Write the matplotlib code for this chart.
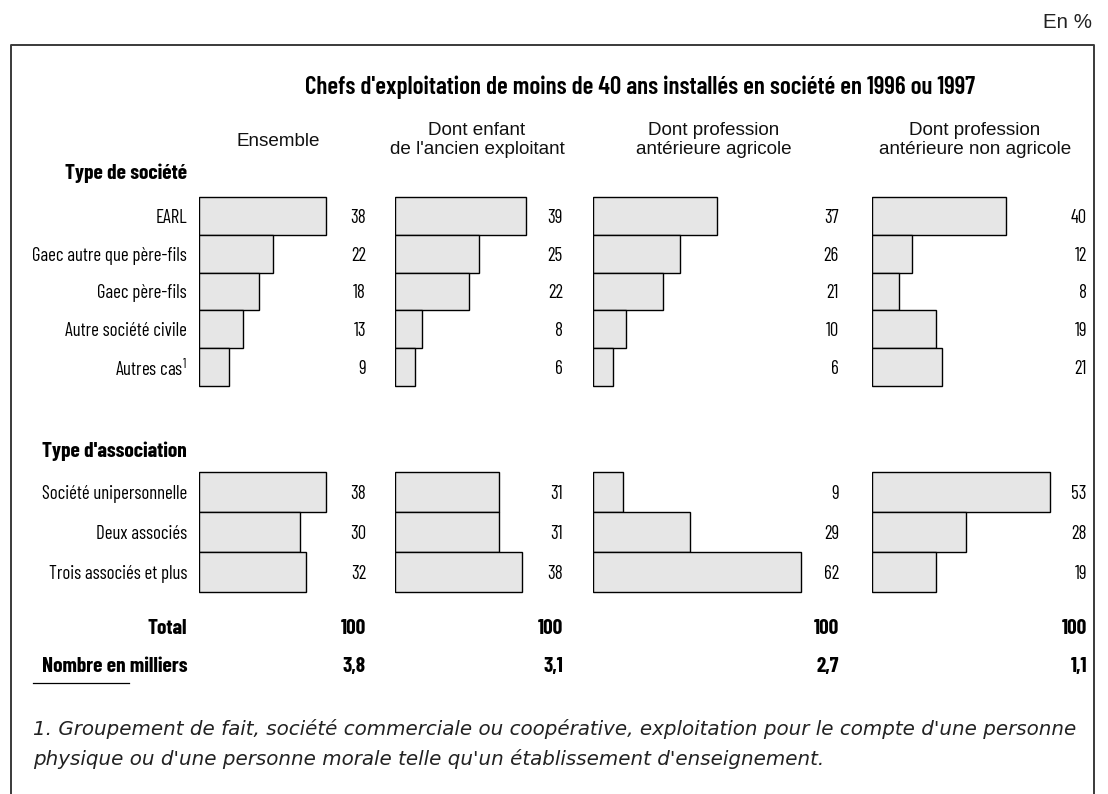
import matplotlib
matplotlib.use("Agg")
import matplotlib.pyplot as plt
from matplotlib import font_manager as fm

# ---------------- data ----------------
columns = ["Ensemble",
           "Dont enfant\nde l'ancien exploitant",
           "Dont profession\nantérieure agricole",
           "Dont profession\nantérieure non agricole"]
societe_labels = ["EARL", "Gaec autre que père-fils", "Gaec père-fils",
                  "Autre société civile", r"Autres cas$^{\mathrm{1}}$"]
societe_values = [
    [38, 22, 18, 13, 9],
    [39, 25, 22, 8, 6],
    [37, 26, 21, 10, 6],
    [40, 12, 8, 19, 21],
]
association_labels = ["Société unipersonnelle", "Deux associés", "Trois associés et plus"]
association_values = [
    [38, 30, 32],
    [31, 31, 38],
    [9, 29, 62],
    [53, 28, 19],
]
totals = ["100", "100", "100", "100"]
nombre = ["3,8", "3,1", "2,7", "1,1"]

subtitle = "Chefs d'exploitation de moins de 40 ans installés en société en 1996 ou 1997"
footnote = ("1. Groupement de fait, société commerciale ou coopérative, exploitation pour le compte d'une personne\n"
            "physique ou d'une personne morale telle qu'un établissement d'enseignement.")

# ---------------- fonts ----------------
names = {f.name for f in fm.fontManager.ttflist}
def pick(cands):
    for c in cands:
        if c in names:
            return [c, "DejaVu Sans"]
    return ["DejaVu Sans"]
narrow = pick(["Barlow Condensed", "Fira Sans Extra Condensed", "Archivo Narrow"])
narrow_bold = pick(["Barlow Condensed", "Fira Sans Extra Condensed", "Encode Sans Condensed"])
regular = pick(["Liberation Sans", "Arimo"])
foot_font = ["DejaVu Sans"]

plt.rcParams["mathtext.fontset"] = "custom"
plt.rcParams["mathtext.rm"] = narrow[0]
plt.rcParams["mathtext.it"] = narrow[0] + ":italic"
plt.rcParams["mathtext.bf"] = narrow[0] + ":bold"

W, H = 1108, 794
fig = plt.figure(figsize=(W / 100, H / 100), dpi=100)
bg = fig.add_axes([0, 0, 1, 1])
bg.set_xlim(0, W)
bg.set_ylim(H, 0)
bg.axis("off")
renderer = fig.canvas.get_renderer()

def fit(t, target_w):
    bb = t.get_window_extent(renderer)
    if bb.width > 0:
        t.set_fontsize(t.get_fontsize() * target_w / bb.width)
    return t.get_fontsize()

# frame (no bottom border)
bg.plot([11, 11, 1094, 1094], [H + 5, 45, 45, H + 5], color="#3a3a3a", lw=1.4)
t = bg.text(1092, 22, "En %", ha="right", va="center", fontsize=12, family=regular, color="#222222")
fit(t, 49)

t = bg.text(640, 87, subtitle, ha="center", va="center", fontsize=12, family=narrow_bold,
            fontweight="semibold")
fit(t, 670)

bar_left = [199, 395, 593, 872]
val_right = [366, 563, 839, 1087]
head_x = [278, 477, 714, 975]
px_per_pct = 3.35
label_right = 187

# header font size from the widest header line
t = bg.text(975, 151, "antérieure non agricole", ha="center", va="center", fontsize=12, family=regular)
hsize = fit(t, 194)
t.remove()
for i, c in enumerate(columns):
    yc = 140 if "\n" in c else 141
    bg.text(head_x[i], yc, c, ha="center", va="center", fontsize=hsize,
            family=regular, color="#111111", linespacing=1.2)

# sizes of the condensed texts
t = bg.text(label_right, 0, "Gaec autre que père-fils", ha="right", va="center", fontsize=12, family=narrow)
lsize = fit(t, 154)
t.remove()
t = bg.text(label_right, 0, "Nombre en milliers", ha="right", va="center", fontsize=12,
            family=narrow_bold, fontweight="bold")
bsize = fit(t, 146)
t.remove()

bg.text(label_right, 173, "Type de société", ha="right", va="center", fontsize=bsize,
        family=narrow_bold, fontweight="bold")
bg.text(label_right, 451, "Type d'association", ha="right", va="center", fontsize=bsize,
        family=narrow_bold, fontweight="bold")

step1, top1 = 37.8, 197
step2, top2 = 40.0, 472
y1 = [top1 + step1 * (k + 0.5) for k in range(len(societe_labels))]
y2 = [top2 + step2 * (k + 0.5) for k in range(len(association_labels))]

for lab, y in zip(societe_labels, y1):
    bg.text(label_right, y, lab, ha="right", va="center_baseline", fontsize=lsize, family=narrow)
for lab, y in zip(association_labels, y2):
    bg.text(label_right, y, lab, ha="right", va="center_baseline", fontsize=lsize, family=narrow)

bg.text(label_right, 627, "Total", ha="right", va="center_baseline", fontsize=bsize,
        family=narrow_bold, fontweight="bold")
bg.text(label_right, 665, "Nombre en milliers", ha="right", va="center_baseline", fontsize=bsize,
        family=narrow_bold, fontweight="bold")

for i in range(4):
    width_px = 240
    ax = fig.add_axes([bar_left[i] / W, 0, width_px / W, 1])
    ax.set_xlim(0, width_px / px_per_pct)
    ax.set_ylim(H, 0)
    ax.axis("off")
    ax.patch.set_alpha(0)
    ax.barh(y1, societe_values[i], height=step1, left=0, color="#e6e6e6",
            edgecolor="black", linewidth=1.0)
    ax.barh(y2, association_values[i], height=step2, left=0, color="#e6e6e6",
            edgecolor="black", linewidth=1.0)
    for v, y in zip(societe_values[i], y1):
        bg.text(val_right[i], y, str(v), ha="right", va="center_baseline", fontsize=lsize, family=narrow)
    for v, y in zip(association_values[i], y2):
        bg.text(val_right[i], y, str(v), ha="right", va="center_baseline", fontsize=lsize, family=narrow)
    bg.text(val_right[i], 627, totals[i], ha="right", va="center_baseline", fontsize=bsize,
            family=narrow_bold, fontweight="bold")
    bg.text(val_right[i], 665, nombre[i], ha="right", va="center_baseline", fontsize=bsize,
            family=narrow_bold, fontweight="bold")

# footnote
bg.plot([33, 129], [683, 683], color="black", lw=0.9)
t = bg.text(33, 744, footnote, ha="left", va="center", fontsize=12, style="italic",
            family=foot_font, color="#222222", linespacing=1.6)
fit(t, 1040)

fig.savefig("out.png", dpi=100)
